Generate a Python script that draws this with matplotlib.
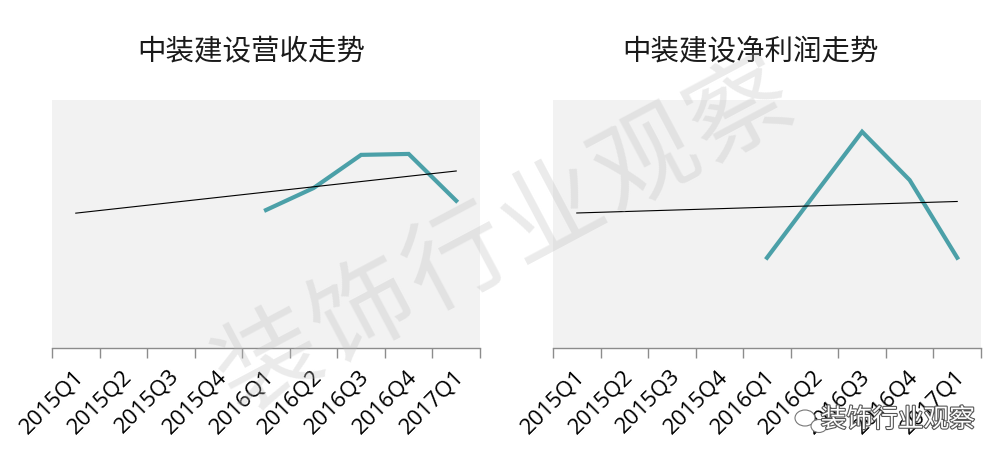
import matplotlib
matplotlib.use("Agg")
import matplotlib.pyplot as plt
import matplotlib.patheffects as pe
import matplotlib.transforms as mtrans
from matplotlib.patches import Ellipse
import numpy as np

plt.rcParams['font.family'] = ['Noto Sans CJK SC', 'DejaVu Sans']

categories = ['2015Q1', '2015Q2', '2015Q3', '2015Q4', '2016Q1',
              '2016Q2', '2016Q3', '2016Q4', '2017Q1']
# data available only from 2016Q1 onwards (index 4..8)
data_start = 4
revenue = [4.45, 5.16, 6.23, 6.26, 4.75]          # 亿元 (estimated)
net_profit = [0.364, 0.619, 0.872, 0.677, 0.364]  # 亿元 (estimated)
titles = ['中装建设营收走势', '中装建设净利润走势']
ylims = [(0, 8.0), (0, 1.0)]
watermark = '装饰行业观察'

teal = '#4BA0A8'
bg = '#F2F2F2'

fig = plt.figure(figsize=(10.04, 4.61), dpi=100)
W, H = 1004, 461
axes_px = [(52, 100, 428, 248), (553, 100, 428, 248)]
title_x = [251.5, 751]

for i, (vals, title, ylim) in enumerate(zip([revenue, net_profit], titles, ylims)):
    x0, y0, w, h = axes_px[i]
    ax = fig.add_axes([x0 / W, (H - y0 - h) / H, w / W, h / H])
    ax.set_facecolor(bg)
    xs = np.arange(data_start, data_start + len(vals))
    ax.plot(xs, vals, color=teal, lw=3.0, solid_joinstyle='miter', zorder=3)
    # linear trendline fitted on the data, extended back to the first category
    k, b = np.polyfit(xs, vals, 1)
    xt = np.array([0, len(categories) - 1])
    ax.plot(xt, k * xt + b, color='black', lw=0.8, zorder=4)
    ax.set_xlim(-0.5, len(categories) - 0.5)
    ax.set_ylim(*ylim)
    for s in ['top', 'right', 'left']:
        ax.spines[s].set_visible(False)
    ax.spines['bottom'].set_color('#8c8c8c')
    ax.spines['bottom'].set_linewidth(1.0)
    ax.set_yticks([])
    ax.set_xticks(np.arange(len(categories)))
    ax.set_xticklabels(categories, rotation=45, ha='right', va='center',
                       rotation_mode='anchor', fontsize=16,
                       family=['Open Sans', 'DejaVu Sans'])
    ax.tick_params(axis='x', which='major', length=0, pad=18)
    off = mtrans.ScaledTranslation(5 / 100, 0, fig.dpi_scale_trans)
    for lab in ax.get_xticklabels():
        lab.set_transform(lab.get_transform() + off)
    ax.set_xticks(np.arange(-0.5, len(categories)), minor=True)
    ax.tick_params(axis='x', which='minor', length=7, color='#8c8c8c', width=1)
    fig.text(title_x[i] / W, 1 - 52 / H, title, ha='center', va='center',
             fontsize=20.5, color='#1a1a1a')

# watermark: characters laid out along a diagonal
ang = 28.0
step = 107.0
cx, cy = 505.0, 237.0
n = len(watermark)
for j, ch in enumerate(watermark):
    d = (j - (n - 1) / 2) * step
    px = cx + d * np.cos(np.radians(ang))
    py = cy - d * np.sin(np.radians(ang))
    fig.text(px / W, 1 - py / H, ch, rotation=ang, fontsize=74,
             color='#bdbdbd', alpha=0.3, ha='center', va='center', zorder=10)

# bottom-right logo
fig.text(898 / W, 1 - 420 / H, '装饰行业观察', ha='center', va='center',
         fontsize=18.5, color='white', zorder=11,
         path_effects=[pe.withStroke(linewidth=1.6, foreground='#555555')])
for (ex, ey, ew, eh) in [(805, 418, 20, 16), (819, 426, 16, 13)]:
    e = Ellipse((ex / W, 1 - ey / H), ew / W, eh / H, transform=fig.transFigure,
                facecolor='white', edgecolor='#777777', lw=0.8, zorder=11)
    fig.add_artist(e)

fig.savefig('out.png', dpi=100, facecolor='white')
